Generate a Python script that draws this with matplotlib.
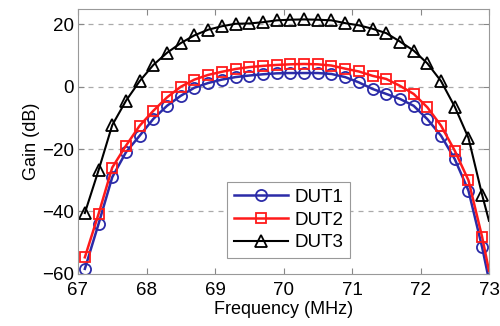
import matplotlib
matplotlib.use("Agg")
import matplotlib.pyplot as plt

plt.rcParams['font.family'] = ['Liberation Sans', 'DejaVu Sans']

# frequency points (MHz); markers every 0.2 MHz, last point only for the line
freq = [67.1, 67.3, 67.5, 67.7, 67.9, 68.1, 68.3, 68.5, 68.7, 68.9,
        69.1, 69.3, 69.5, 69.7, 69.9, 70.1, 70.3, 70.5, 70.7, 70.9,
        71.1, 71.3, 71.5, 71.7, 71.9, 72.1, 72.3, 72.5, 72.7, 72.9, 73.0]

dut1 = [-58.4, -44.0, -29.0, -21.0, -15.7, -10.3, -6.1, -2.9, -0.3, 1.2,
        2.3, 3.1, 3.6, 4.0, 4.3, 4.4, 4.4, 4.4, 4.1, 3.1,
        1.4, -0.7, -2.3, -3.9, -6.1, -10.4, -15.7, -23.2, -33.3, -51.5, -62.0]

dut2 = [-54.7, -40.8, -25.9, -18.9, -12.5, -7.7, -3.4, 0.0, 2.3, 3.8,
        4.8, 5.7, 6.3, 6.7, 7.0, 7.2, 7.3, 7.2, 6.8, 5.8,
        4.9, 3.5, 2.5, 0.3, -2.3, -6.6, -12.5, -20.5, -30.0, -48.2, -59.0]

dut3 = [-40.5, -26.8, -12.3, -4.5, 1.8, 7.0, 10.9, 14.0, 16.5, 18.3,
        19.4, 20.2, 20.3, 20.7, 21.3, 21.5, 21.6, 21.5, 21.3, 20.4,
        19.7, 18.6, 17.2, 14.5, 11.6, 7.5, 1.8, -6.4, -16.4, -34.7, -43.0]

labels = ["DUT1", "DUT2", "DUT3"]
xticks = [67, 68, 69, 70, 71, 72, 73]
yticks = [-60, -40, -20, 0, 20]

fig = plt.figure(figsize=(5.0, 3.26), dpi=100)
ax = fig.add_axes([0.156, 0.160, 0.822, 0.813])

marks = slice(0, len(freq) - 1)
ax.plot(freq, dut1, color="#2b2ba8", marker="o", markersize=8, markerfacecolor="none",
        markeredgewidth=1.3, linewidth=1.8, markevery=marks, label=labels[0])
ax.plot(freq, dut2, color="#ff1a1a", marker="s", markersize=7.5, markerfacecolor="none",
        markeredgewidth=1.3, linewidth=1.8, markevery=marks, label=labels[1])
ax.plot(freq, dut3, color="black", marker="^", markersize=8.5, markerfacecolor="none",
        markeredgewidth=1.3, linewidth=1.5, markevery=marks, label=labels[2])

ax.set_xlim(67, 73)
ax.set_ylim(-60, 25)
ax.set_xticks(xticks)
ax.set_yticks(yticks)
ax.tick_params(direction="in", top=True, right=True, labelsize=13.5, length=4,
               color="#888888", width=0.8, pad=3)
ax.tick_params(axis="x", pad=6)
for s in ax.spines.values():
    s.set_color("#999999")
    s.set_linewidth(0.8)
for y in [-40, -20, 0, 20]:
    ax.axhline(y, color="#aaaaaa", linestyle=(0, (4, 4)), linewidth=0.9, zorder=0)

ax.set_xlabel("Frequency (MHz)", fontsize=13, labelpad=1)
ax.set_ylabel("Gain (dB)", fontsize=13, labelpad=1)

leg = ax.legend(loc="lower left", bbox_to_anchor=(0.3625, 0.06), borderaxespad=0,
                fontsize=13.5, fancybox=False, edgecolor="#999999", framealpha=1,
                handlelength=2.9, borderpad=0.35, labelspacing=0.3, handletextpad=0.35)
leg.get_frame().set_linewidth(0.8)

fig.savefig("out.png", dpi=100)
